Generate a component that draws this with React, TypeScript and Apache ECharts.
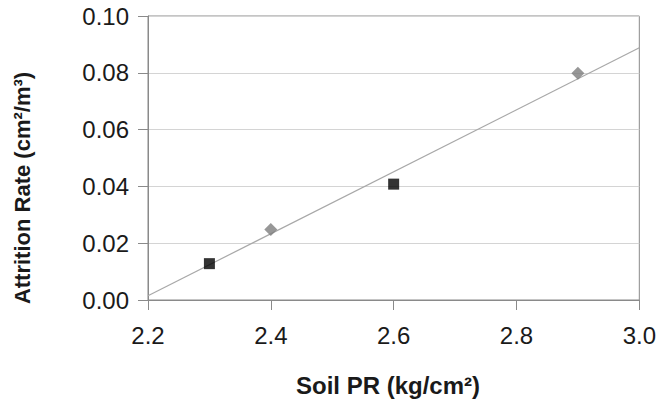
import React, { useEffect, useRef } from "react";
import * as echarts from "echarts";

const squareX = [2.3, 2.6];
const squareY = [0.0128, 0.0408];
const diamondX = [2.4, 2.9];
const diamondY = [0.0248, 0.0798];
const trendX = [2.2, 3.0];
const trendY = [0.0015, 0.0888];
const xTicks = ["2.2", "2.4", "2.6", "2.8", "3.0"];
const yTicks = ["0.00", "0.02", "0.04", "0.06", "0.08", "0.10"];

const xTitle = "Soil PR (kg/cm²)";
const yTitle = "Attrition Rate (cm²/m³)";

export default function App() {
  const ref = useRef<HTMLDivElement>(null);
  useEffect(() => {
    if (!ref.current) return;
    const chart = echarts.init(ref.current, null, { renderer: "svg" });
    const font = "Liberation Sans, Arial, sans-serif";
    chart.setOption({
      animation: false,
      backgroundColor: "#fff",
      grid: {
        left: 148,
        right: 18,
        top: 16,
        bottom: 100,
        show: true,
        borderColor: "#8a8a8a",
        borderWidth: 1,
        containLabel: false,
      },
      xAxis: {
        type: "value",
        min: 2.2,
        max: 3.0,
        interval: 0.2,
        axisLine: { show: true, lineStyle: { color: "#8a8a8a", width: 1 } },
        axisTick: { show: true, length: 10, inside: false, lineStyle: { color: "#8a8a8a" } },
        splitLine: { show: false },
        axisLabel: {
          margin: 23,
          fontSize: 24,
          fontFamily: font,
          color: "#1a1a1a",
          formatter: (v: number) => {
            const i = Math.round((v - 2.2) / 0.2);
            return xTicks[i] ?? v.toFixed(1);
          },
        },
      },
      yAxis: {
        type: "value",
        min: 0,
        max: 0.1,
        interval: 0.02,
        axisLine: { show: true, lineStyle: { color: "#8a8a8a", width: 1 } },
        axisTick: { show: true, length: 10, inside: false, lineStyle: { color: "#8a8a8a" } },
        splitLine: { show: true, lineStyle: { color: "#d4d4d4", width: 1 } },
        axisLabel: {
          margin: 19,
          fontSize: 24,
          fontFamily: font,
          color: "#1a1a1a",
          formatter: (v: number) => {
            const i = Math.round(v / 0.02);
            return yTicks[i] ?? v.toFixed(2);
          },
        },
      },
      graphic: [
        {
          type: "text",
          x: 22,
          y: 188,
          rotation: Math.PI / 2,
          style: {
            text: yTitle,
            fontSize: 22,
            fontWeight: "bold",
            fontFamily: font,
            fill: "#1a1a1a",
            align: "center",
            verticalAlign: "middle",
          },
        },
        {
          type: "text",
          x: 388,
          y: 385,
          style: {
            text: xTitle,
            fontSize: 24,
            fontWeight: "bold",
            fontFamily: font,
            fill: "#1a1a1a",
            align: "center",
            verticalAlign: "middle",
          },
        },
      ],
      series: [
        {
          type: "line",
          data: trendX.map((x, i) => [x, trendY[i]]),
          showSymbol: false,
          symbol: "none",
          lineStyle: { color: "#a8a8a8", width: 1.2 },
          z: 1,
        },
        {
          type: "scatter",
          data: squareX.map((x, i) => [x, squareY[i]]),
          symbol: "rect",
          symbolSize: 11,
          itemStyle: { color: "#000" },
          z: 3,
        },
        {
          type: "scatter",
          data: diamondX.map((x, i) => [x, diamondY[i]]),
          symbol: "diamond",
          symbolSize: [13, 13],
          itemStyle: { color: "#7d7d7d" },
          z: 3,
        },
      ],
    });
    return () => chart.dispose();
  }, []);
  return <div ref={ref} style={{ width: 659, height: 400, position: "absolute", left: 0, top: 0 }} />;
}
